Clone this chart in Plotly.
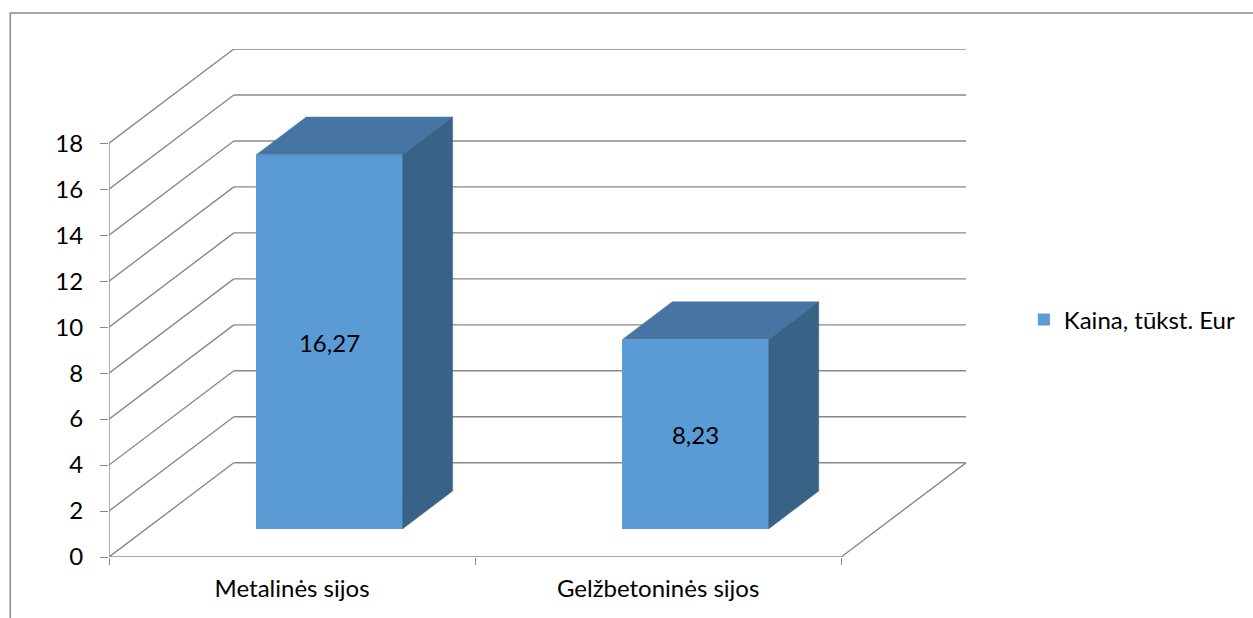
import plotly.graph_objects as go

# ---- data ----
categories = ["Metalinės sijos", "Gelžbetoninės sijos"]
values = [16.27, 8.23]
value_labels = ["16,27", "8,23"]
series_name = "Kaina, tūkst. Eur"
y_ticks = [0, 2, 4, 6, 8, 10, 12, 14, 16, 18]

# ---- geometry / style ----
W, H = 1253, 618
L, R, T, B = 109, 968, 49, 557          # plot area in px
DX, DY = 0.341, 4.1                     # oblique depth offset (x units, value units)
T0, T1 = 0.3, 0.7                       # bar depth fraction (front, back)
BAR_W = 0.4
GRID = "#898989"
FRONT = "#5B9BD5"
TOP = "#4675A3"
SIDE = "#396287"
FONT = "Lato"
FS = 24

ncat = len(categories)
xmax = ncat + DX
ymax = max(y_ticks) + DY

def px_to_paper(px, py):
    return (px - L) / (R - L), (B - py) / (B - T)

fig = go.Figure()

shapes = []
def line(x0, y0, x1, y1):
    shapes.append(dict(type="line", xref="x", yref="y", x0=x0, y0=y0, x1=x1, y1=y1,
                       line=dict(color=GRID, width=1.4), layer="below"))

# gridlines: front-left diagonal + back wall horizontal
for v in y_ticks:
    line(0, v, DX, v + DY)
    line(DX, v + DY, ncat + DX, v + DY)
# floor front edge & right diagonal
line(0, 0, ncat, 0)
line(ncat, 0, ncat + DX, DY)
# vertical axis line at front
line(0, 0, 0, max(y_ticks))

# chart border (top-left visible)
bx0, by0 = px_to_paper(10, 13)
bx1, by1 = px_to_paper(W + 20, H + 20)
shapes.append(dict(type="rect", xref="paper", yref="paper", x0=bx0, y0=by1, x1=bx1, y1=by0,
                   line=dict(color="#8a8a8a", width=1.5), layer="below"))

# front faces
front_x = [i + 0.5 + T0 * DX for i in range(ncat)]
fig.add_trace(go.Bar(
    x=front_x, y=values, base=T0 * DY, width=BAR_W,
    marker=dict(color=FRONT, line=dict(width=0)),
    text=value_labels, textposition="inside", insidetextanchor="middle",
    textangle=0, textfont=dict(family=FONT, size=FS, color="black"),
    name=series_name, showlegend=True, hoverinfo="skip",
))

ddx, ddy = (T1 - T0) * DX, (T1 - T0) * DY
for i, v in enumerate(values):
    x0 = front_x[i] - BAR_W / 2
    x1 = front_x[i] + BAR_W / 2
    b = T0 * DY
    top = b + v
    # top face
    fig.add_trace(go.Scatter(
        x=[x0, x1, x1 + ddx, x0 + ddx, x0], y=[top, top, top + ddy, top + ddy, top],
        fill="toself", fillcolor=TOP, mode="lines", line=dict(color=TOP, width=0.5),
        showlegend=False, hoverinfo="skip"))
    # side face
    fig.add_trace(go.Scatter(
        x=[x1, x1, x1 + ddx, x1 + ddx, x1], y=[b, top, top + ddy, b + ddy, b],
        fill="toself", fillcolor=SIDE, mode="lines", line=dict(color=SIDE, width=0.5),
        showlegend=False, hoverinfo="skip"))

lx, ly = px_to_paper(1026, 320)
fig.update_layout(
    width=W, height=H,
    margin=dict(l=L, r=W - R, t=T, b=H - B, pad=0),
    paper_bgcolor="white", plot_bgcolor="white",
    font=dict(family=FONT, size=FS, color="black"),
    shapes=shapes,
    showlegend=True,
    legend=dict(x=lx, y=ly, xanchor="left", yanchor="middle",
                font=dict(family=FONT, size=FS, color="black"), bgcolor="rgba(0,0,0,0)"),
    xaxis=dict(range=[0, xmax], showgrid=False, zeroline=False, showline=False,
               tickmode="array", tickvals=[i + 0.5 for i in range(ncat)], ticktext=categories,
               ticks="", ticklabelstandoff=15,
               minor=dict(tickmode="array", tickvals=list(range(ncat + 1)), ticks="outside",
                          ticklen=7, tickcolor=GRID, tickwidth=1.4)),
    yaxis=dict(range=[0, ymax], showgrid=False, zeroline=False, showline=False,
               tickmode="array", tickvals=y_ticks, ticks="outside", ticklen=8,
               tickcolor=GRID, tickwidth=1.4, ticklabelstandoff=12),
    bargap=0,
)

fig.write_html("out.html")
